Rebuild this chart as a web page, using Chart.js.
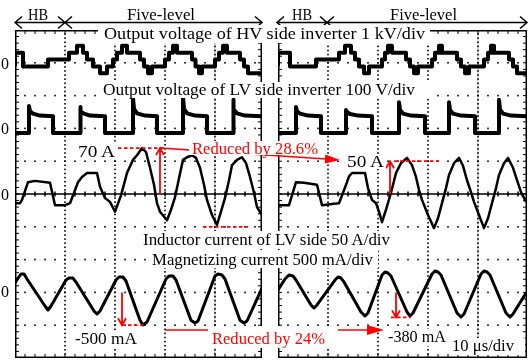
<!DOCTYPE html>
<html>
<head>
<meta charset="utf-8">
<script src="https://cdn.jsdelivr.net/npm/chart.js@4.4.1/dist/chart.umd.min.js"></script>
<style>
  html, body { margin: 0; padding: 0; background: #fff; }
  #page { position: relative; width: 531px; height: 360px; overflow: hidden; }
  canvas { position: absolute; }
  svg { position: absolute; left: 0; top: 0; }
  svg text { font-family: "Liberation Serif", "Times New Roman", serif; font-size: 16px; }
</style>
</head>
<body>
<div id="page">
  <canvas id="left" width="247" height="328" style="left:15px;top:30px"></canvas>
  <canvas id="right" width="249" height="328" style="left:278px;top:30px"></canvas>
  <svg width="531" height="360">
    <!-- HB / Five-level header arrows -->
    <g stroke="#000" stroke-width="1.5" fill="none">
      <path d="M15 22.5H262 M22 16.5L15 22.5L22 28.5 M58 16.5L65 22.5L58 28.5 M72 16.5L65 22.5L72 28.5 M255 16.5L262 22.5L255 28.5"/>
      <path d="M277 22.5H527 M284 16.5L277 22.5L284 28.5 M320 16.5L327 22.5L320 28.5 M334 16.5L327 22.5L334 28.5 M520 16.5L527 22.5L520 28.5"/>
    </g>
    <!-- reduction arrows -->
    <g stroke="#f00" stroke-width="1.6" fill="#f00">
      <line x1="160" y1="148" x2="326" y2="159"/>
      <polygon points="340,160 325.3,154.5 324.7,163.5" stroke="none"/>
      <line x1="165" y1="330" x2="368" y2="330"/>
      <polygon points="384,330 367,325 367,335" stroke="none"/>
    </g>
    <!-- label boxes -->
    <g fill="#fff">
      <rect x="98" y="25" width="332" height="18"/>
      <rect x="98" y="82" width="338" height="16"/>
      <rect x="140" y="231" width="255" height="18"/>
      <rect x="148" y="250" width="230" height="18"/>
      <rect x="76" y="144" width="41" height="15"/>
      <rect x="189" y="141" width="132" height="14"/>
      <rect x="345" y="154" width="41" height="15"/>
      <rect x="73" y="331" width="66" height="16"/>
      <rect x="208" y="326" width="130" height="22"/>
      <rect x="386" y="329" width="62" height="17"/>
      <rect x="449" y="338" width="76" height="17"/>
    </g>
    <g fill="#000">
      <text x="28" y="20" textLength="20" lengthAdjust="spacingAndGlyphs">HB</text>
      <text x="127" y="20" textLength="68" lengthAdjust="spacingAndGlyphs">Five-level</text>
      <text x="292" y="20" textLength="20" lengthAdjust="spacingAndGlyphs">HB</text>
      <text x="390" y="20" textLength="67" lengthAdjust="spacingAndGlyphs">Five-level</text>
      <text x="104" y="38.5" textLength="321" lengthAdjust="spacingAndGlyphs">Output voltage of HV side inverter 1 kV/div</text>
      <text x="103" y="95" textLength="312" lengthAdjust="spacingAndGlyphs">Output voltage of LV side inverter 100 V/div</text>
      <text x="143" y="245" textLength="247" lengthAdjust="spacingAndGlyphs">Inductor current of LV side 50 A/div</text>
      <text x="152" y="265" textLength="221" lengthAdjust="spacingAndGlyphs">Magnetizing current 500 mA/div</text>
      <text x="78" y="157" textLength="37" lengthAdjust="spacingAndGlyphs">70 A</text>
      <text x="347" y="167" textLength="37" lengthAdjust="spacingAndGlyphs">50 A</text>
      <text x="75" y="344" textLength="62" lengthAdjust="spacingAndGlyphs">-500 mA</text>
      <text x="388" y="342" textLength="58" lengthAdjust="spacingAndGlyphs">-380 mA</text>
      <text x="452" y="351" textLength="62" lengthAdjust="spacingAndGlyphs">10 μs/div</text>
      <text x="1" y="68.5" textLength="8" lengthAdjust="spacingAndGlyphs">0</text>
      <text x="1" y="134" textLength="8" lengthAdjust="spacingAndGlyphs">0</text>
      <text x="1" y="199.5" textLength="8" lengthAdjust="spacingAndGlyphs">0</text>
      <text x="1" y="297" textLength="8" lengthAdjust="spacingAndGlyphs">0</text>
    </g>
    <g fill="#f00">
      <text x="192" y="154" textLength="126" lengthAdjust="spacingAndGlyphs">Reduced by 28.6%</text>
      <text x="212" y="344" textLength="113" lengthAdjust="spacingAndGlyphs">Reduced by 24%</text>
    </g>
  </svg>
</div>
<script>
// --- DATA (time in µs, one capture per panel) ---
// HV side inverter output voltage, kV (level changes, held until next point)
const hvLeft = [[0,-0.11],[1.6,0.31],[6.6,-0.11],[10.8,0.10],[12.4,0.31],[13.6,0.52],[14.4,0.31],[15.6,0.10],[17,-0.11],[18.4,-0.32],[19.6,-0.11],[20.4,0.10],[21.4,0.31],[22.4,0.52],[25,0.31],[25.8,0.10],[26.6,-0.11],[27.4,-0.32],[30,-0.11],[30.8,0.10],[31.6,0.31],[32.4,0.52],[35.4,0.31],[36.1,0.10],[36.8,-0.11],[37.4,-0.32],[40,-0.11],[40.8,0.10],[41.6,0.31],[42.4,0.52],[45,0.31],[45.8,0.10],[46.6,-0.11],[47.4,-0.32],[49.4,-0.32]];
const hvRight = [[0,-0.11],[2.4,0.31],[7.6,-0.11],[12.2,0.10],[13.4,0.31],[14.6,0.52],[15.4,0.31],[16.2,0.10],[17.2,-0.11],[18.2,-0.32],[20.8,-0.11],[21.4,0.10],[22,0.31],[22.8,0.52],[25.6,0.31],[26.4,0.10],[27.2,-0.11],[28,-0.32],[30.8,-0.11],[31.4,0.10],[32.2,0.31],[32.8,0.52],[35.8,0.31],[36.6,0.10],[37.4,-0.11],[38.2,-0.32],[41.2,-0.11],[42,0.10],[42.6,0.31],[43.2,0.52],[46.2,0.31],[47,0.10],[47.8,-0.11],[48.6,-0.32],[49.8,-0.32]];

// LV side inverter output voltage, V
const lvLeft = [[0,-14],[2.8,-14],[2.8,68],[3,52],[3.6,45],[5,39],[7.6,37],[7.6,-14],[13,-14],[13,65],[13.2,52],[13.8,45],[15,39],[18,37],[18,-14],[23.6,-14],[23.6,93],[23.8,60],[24.4,46],[26,39],[28.4,37],[28.4,-14],[33.6,-14],[33.6,96],[33.8,60],[34.4,46],[36,39],[38.4,37],[38.4,-14],[43.6,-14],[43.6,87],[43.8,58],[44.4,46],[46,39],[49.4,37]];
const lvRight = [[0,-14],[3.6,-14],[3.6,65],[3.8,52],[4.4,45],[6,39],[8.6,37],[8.6,-14],[13.6,-14],[13.6,56],[13.8,50],[14.4,44],[16,39],[18.8,37],[18.8,-14],[24.2,-14],[24.2,80],[24.4,56],[25,45],[26.6,39],[29.4,37],[29.4,-14],[34.2,-14],[34.2,80],[34.4,56],[35,45],[36.6,39],[39.4,37],[39.4,-14],[44.2,-14],[44.2,87],[44.4,58],[45,45],[46.6,39],[49.8,37]];

// LV side inductor current, A
const ilLeft = [[0,-14],[1,-14],[1.4,-9],[2.6,18],[4,20],[7,17],[8,-17],[10,-17],[11,-14],[12.6,18],[13.4,26],[14.4,32],[16.4,32],[17,11],[18,-6],[19,-12],[20,-27],[21.2,-2],[22.4,32],[23.6,52],[24.4,59],[25.4,70],[26.2,64],[27,40],[27.8,14],[28.4,-14],[29,-27],[30.4,-40],[31.2,-24],[32,-5],[32.8,24],[33.6,52],[34.4,56],[35.4,59],[36.2,55],[37,40],[37.8,14],[38.4,-9],[39.4,-32],[40.4,-47],[41.2,-27],[42,-6],[42.8,21],[43.4,44],[44.4,52],[45.4,56],[46.2,47],[47,26],[47.8,2],[48.4,-20],[49.4,-32]];
const ilRight = [[0,-17],[2.2,-17],[3.6,18],[5.2,17],[7.8,14],[8.8,-17],[11.2,-15],[12.2,-14],[13.8,18],[14.2,27],[14.8,32],[17.4,32],[18,9],[18.8,-9],[19.6,-14],[20.2,-27],[20.8,-43],[21.6,-24],[22.6,2],[23.6,32],[24.6,47],[25.8,55],[26.8,44],[27.6,26],[28.2,6],[28.8,-9],[30,-32],[31.2,-52],[32,-37],[32.8,-14],[33.6,9],[34.2,29],[35.2,47],[36.2,55],[37,43],[37.8,21],[38.6,3],[39.2,-12],[40.2,-32],[41.2,-52],[42,-37],[42.8,-14],[43.6,9],[44.2,29],[45.2,47],[46,55],[47,40],[47.8,21],[48.6,3],[49.6,-12]];

// magnetizing current, mA
const imLeft = [[0,143],[0.6,219],[1.2,280],[1.8,280],[2.4,204],[6,-207],[6.6,-268],[7.2,-207],[10.2,189],[10.8,219],[11.6,219],[12.2,158],[15.8,-283],[16.4,-329],[17,-283],[20.2,189],[20.8,235],[21.6,235],[22.2,174],[25,-424],[25.6,-497],[26.4,-451],[30.2,204],[30.8,250],[31.6,250],[32.2,189],[35.2,-424],[36,-466],[36.6,-436],[40,250],[40.6,280],[41.4,265],[42,204],[45,-424],[45.8,-466],[46.4,-436],[49.4,67]];
const imRight = [[0,37],[1.4,204],[2.2,265],[3,250],[3.6,189],[6.6,-192],[7.2,-238],[7.8,-192],[11.4,189],[12,235],[12.6,219],[13.2,158],[16.6,-299],[17.4,-360],[18,-314],[20.8,265],[21.4,311],[22,296],[22.6,250],[25.8,-299],[26.4,-360],[27,-314],[30.8,280],[31.4,326],[32,311],[32.6,265],[35.8,-314],[36.6,-375],[37.2,-329],[40.6,280],[41.2,326],[41.8,311],[42.4,265],[45.6,-314],[46.4,-375],[47,-329],[49.6,-9]];

// red level marks: axis, level, dashed span (µs), arrow position (µs)
const leftMarks = [
  { axis: 'yIL', level: 70, from: 20.6, to: 30, arrow: 29 },
  { axis: 'yIL', level: -50, from: 37.6, to: 46.6 },
  { axis: 'yIM', level: -500, from: 21.4, to: 26, arrow: 21.4 }
];
const rightMarks = [
  { axis: 'yIL', level: 50, from: 23.2, to: 32.2, arrow: 22.4 },
  { axis: 'yIM', level: -380, from: 22.6, to: 26.6, arrow: 23.6 }
];

// --- SCOPE GRATICULE ---
const graticule = {
  id: 'graticule',
  beforeDatasetsDraw(chart) {
    const { ctx, chartArea: a } = chart;
    const x = chart.scales.x;
    const divH = a.height / 10;
    const dot = (px, py) => ctx.fillRect(px - 0.8, py - 0.8, 1.6, 1.6);
    ctx.save();
    ctx.fillStyle = '#000';

    // screen centre column (light)
    const cx = x.getPixelForValue(40);
    ctx.strokeStyle = '#bbb';
    ctx.lineWidth = 1;
    ctx.beginPath(); ctx.moveTo(cx, a.top); ctx.lineTo(cx, a.bottom); ctx.stroke();
    ctx.strokeStyle = '#000';

    for (let r = 1; r < 10; r++) {
      if (r === 5) continue;
      const py = a.top + r * divH;
      for (let t = 0; t <= x.max; t += 2) dot(x.getPixelForValue(t), py);
    }
    for (let t = 10; t < x.max; t += 10) {
      const px = x.getPixelForValue(t);
      for (let py = a.top; py < a.bottom; py += divH / 8) dot(px, py);
    }

    // centre row with ticks
    const cy = a.top + 5 * divH;
    ctx.lineWidth = 1.5;
    ctx.beginPath(); ctx.moveTo(a.left, cy); ctx.lineTo(a.right, cy);
    for (let t = 2; t < x.max; t += 2) {
      const px = x.getPixelForValue(t);
      ctx.moveTo(px, cy - 2.5); ctx.lineTo(px, cy + 2.5);
    }
    ctx.stroke();

    // frame and frame ticks
    ctx.strokeRect(a.left + 0.75, a.top + 0.75, a.width - 1.5, a.height - 1.5);
    ctx.lineWidth = 1;
    ctx.beginPath();
    for (let py = a.top + divH / 5; py < a.bottom; py += divH / 5) {
      ctx.moveTo(a.left, py); ctx.lineTo(a.left + 4, py);
      ctx.moveTo(a.right, py); ctx.lineTo(a.right - 4, py);
    }
    for (let t = 2; t < x.max; t += 2) {
      const px = x.getPixelForValue(t);
      ctx.moveTo(px, a.top); ctx.lineTo(px, a.top + 4);
      ctx.moveTo(px, a.bottom); ctx.lineTo(px, a.bottom - 4);
    }
    ctx.stroke();
    ctx.restore();
  }
};

function markPlugin(list) {
  return {
    id: 'marks',
    afterDatasetsDraw(chart) {
      const { ctx } = chart;
      const x = chart.scales.x;
      ctx.save();
      ctx.strokeStyle = '#f00';
      ctx.lineWidth = 1.8;
      list.forEach(m => {
        const y = chart.scales[m.axis];
        const py = y.getPixelForValue(m.level);
        ctx.setLineDash([3.5, 2.5]);
        ctx.beginPath();
        ctx.moveTo(x.getPixelForValue(m.from), py);
        ctx.lineTo(x.getPixelForValue(m.to), py);
        ctx.stroke();
        if (m.arrow !== undefined) {
          ctx.setLineDash([]);
          const px = x.getPixelForValue(m.arrow);
          const p0 = y.getPixelForValue(0);
          const dir = py < p0 ? 1 : -1;
          ctx.beginPath();
          ctx.moveTo(px, p0); ctx.lineTo(px, py);
          ctx.moveTo(px - 4, py + dir * 7); ctx.lineTo(px, py); ctx.lineTo(px + 4, py + dir * 7);
          ctx.stroke();
        }
      });
      ctx.restore();
    }
  };
}

const pts = arr => arr.map(([x, y]) => ({ x, y }));

function makePanel(id, hv, lv, il, im, xMax, marks) {
  return new Chart(document.getElementById(id), {
    type: 'line',
    data: {
      datasets: [
        { data: pts(hv), yAxisID: 'yHV', stepped: 'after', borderWidth: 4 },
        { data: pts(lv), yAxisID: 'yLV', borderWidth: 4 },
        { data: pts(il), yAxisID: 'yIL', borderWidth: 2.5 },
        { data: pts(im), yAxisID: 'yIM', borderWidth: 3 }
      ]
    },
    options: {
      responsive: false,
      animation: false,
      layout: { padding: 0 },
      parsing: false,
      elements: {
        point: { radius: 0 },
        line: { borderColor: '#000', tension: 0, borderJoinStyle: 'round' }
      },
      plugins: { legend: { display: false }, tooltip: { enabled: false } },
      scales: {
        x: { type: 'linear', min: 0, max: xMax, display: false },
        yHV: { min: -9, max: 1, display: false },
        yLV: { min: -700, max: 300, display: false },
        yIL: { min: -250, max: 250, display: false },
        yIM: { min: -1000, max: 4000, display: false }
      }
    },
    plugins: [graticule, markPlugin(marks)]
  });
}

makePanel('left', hvLeft, lvLeft, ilLeft, imLeft, 49.4, leftMarks);
makePanel('right', hvRight, lvRight, ilRight, imRight, 49.8, rightMarks);
</script>
</body>
</html>
